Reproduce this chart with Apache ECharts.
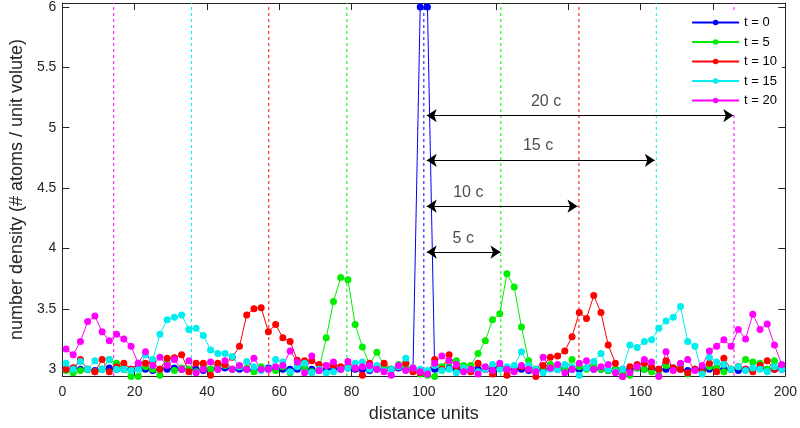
<!DOCTYPE html>
<html><head><meta charset="utf-8">
<script src="https://cdn.jsdelivr.net/npm/echarts@6/dist/echarts.min.js"></script>
<style>html,body{margin:0;padding:0;background:#fff}#c{width:800px;height:428px}</style>
</head><body><div id="c"></div>
<script>
const xs = [1,3,5,7,9,11,13,15,17,19,21,23,25,27,29,31,33,35,37,39,41,43,45,47,49,51,53,55,57,59,61,63,65,67,69,71,73,75,77,79,81,83,85,87,89,91,93,95,97,99,101,103,105,107,109,111,113,115,117,119,121,123,125,127,129,131,133,135,137,139,141,143,145,147,149,151,153,155,157,159,161,163,165,167,169,171,173,175,177,179,181,183,185,187,189,191,193,195,197,199];

const seriesNames = ['t = 0','t = 5','t = 10','t = 15','t = 20'];

const t0 = [3.00,3.01,3.00,3.00,2.99,3.00,3.01,3.00,3.00,3.00,
3.01,3.00,2.99,3.00,3.00,3.01,3.00,3.00,3.00,2.99,
3.00,3.00,3.01,3.00,3.00,3.00,2.99,3.00,3.01,3.00,
3.00,3.00,3.00,3.01,3.00,2.99,3.00,3.00,3.00,3.01,
3.00,3.00,2.99,3.00,3.00,3.00,3.01,3.00,3.00,6.00,
6.00,3.00,3.00,3.01,3.00,3.00,2.99,3.00,3.00,3.00,
3.01,3.00,3.00,3.00,2.99,3.00,3.00,3.01,3.00,3.00,
3.00,3.00,3.01,3.00,3.00,2.99,3.00,3.00,3.00,3.01,
3.00,3.00,3.00,3.00,3.01,3.00,2.99,3.00,3.00,3.00,
3.01,3.00,3.00,2.99,3.00,3.00,3.01,3.00,3.00,3.00];

const t5 = [2.99,2.97,2.99,3.00,2.98,3.00,3.08,3.05,3.00,2.94,
2.94,3.02,3.00,2.95,3.08,2.99,3.01,3.00,2.98,3.02,
3.00,3.04,3.03,3.00,3.02,3.01,2.98,3.02,3.00,2.99,
3.02,2.97,3.04,3.01,2.98,3.00,3.26,3.56,3.76,3.74,
3.37,3.185,3.04,3.14,3.03,3.00,3.04,3.02,2.99,2.96,
2.95,2.94,3.02,3.06,3.07,3.03,3.03,3.13,3.235,3.41,
3.46,3.79,3.68,3.35,3.07,3.00,3.02,3.04,3.03,3.00,
3.08,3.02,3.00,3.03,3.00,2.99,3.00,2.96,2.95,3.01,
3.00,2.98,2.95,3.03,3.00,3.02,2.96,3.00,2.98,3.02,
3.01,2.98,3.00,3.02,3.08,3.06,3.05,3.00,3.07,3.03];

const t10 = [3.00,3.01,3.08,3.00,2.98,3.08,2.98,3.02,3.05,3.00,
3.05,3.05,3.06,3.00,3.09,3.095,3.12,2.98,3.05,3.05,
2.95,3.05,3.04,3.10,3.19,3.45,3.50,3.51,3.31,3.37,
3.26,3.23,3.075,3.07,3.07,3.04,3.03,3.03,3.02,3.02,
3.01,2.95,3.05,3.01,3.05,3.00,3.02,3.05,2.98,2.97,
2.97,3.08,3.00,3.12,3.02,3.00,2.98,3.05,3.00,2.96,
3.02,2.95,3.00,3.02,3.00,2.94,3.03,3.10,3.11,3.15,
3.27,3.47,3.42,3.61,3.47,3.20,3.05,2.94,3.02,3.04,
3.05,3.02,3.00,3.07,3.01,3.00,2.97,3.00,2.98,3.05,
2.98,3.09,3.00,3.02,3.00,2.98,3.03,3.07,3.00,3.03];

const t15 = [3.05,3.00,3.065,3.00,3.07,3.00,3.08,3.00,3.00,2.99,
3.00,3.12,3.08,3.29,3.41,3.43,3.45,3.33,3.34,3.28,
3.16,3.13,3.13,3.105,3.02,3.065,3.02,2.99,3.00,3.08,
3.06,2.98,3.02,3.05,2.97,3.00,2.97,2.98,3.00,3.01,
3.05,3.06,3.00,3.03,2.99,3.00,3.02,3.09,3.01,3.00,
2.99,3.03,2.99,3.00,2.97,3.01,3.00,2.98,3.00,3.04,
3.00,3.02,3.03,3.145,3.03,3.00,2.97,3.00,3.00,3.04,
3.02,2.95,3.01,3.065,3.13,3.00,2.98,3.00,3.20,3.18,
3.23,3.245,3.34,3.40,3.43,3.52,3.23,3.19,2.96,3.10,
3.06,3.04,3.00,3.02,2.99,3.01,3.00,2.98,3.02,3.00];

const t20 = [3.167,3.12,3.23,3.395,3.44,3.31,3.235,3.29,3.25,3.19,
3.05,3.145,3.03,3.10,3.03,3.08,3.00,3.07,2.97,3.00,
3.06,3.00,3.07,3.00,3.03,3.00,3.09,3.00,3.00,3.02,
3.03,3.15,3.06,2.97,3.11,2.99,3.03,3.06,3.00,3.065,
3.01,3.02,3.03,3.00,2.98,2.95,3.03,2.99,3.01,2.98,
2.96,3.05,3.11,3.07,3.04,2.98,3.00,2.96,3.02,2.99,
3.05,3.00,2.98,3.03,3.00,2.98,3.10,3.01,3.04,2.97,
3.00,3.05,3.07,3.00,3.02,3.04,2.97,2.94,2.97,3.02,
3.08,3.06,2.94,3.145,2.99,3.05,3.08,2.99,3.03,3.15,
3.19,3.245,3.19,3.33,3.25,3.455,3.33,3.375,3.20,3.04];

// wave-front positions (dashed vertical lines)
const front0 = [100];
const front5 = [78.7, 121.3];
const front10 = [57.1, 142.9];
const front15 = [35.7, 164.3];
const front20 = [14.2, 185.8];

// distance arrows
const arrowStartX = 100.8;
const arrowEndX = [121.2, 142.5, 163.9, 185.6];
const arrowY = [3.97, 4.35, 4.73, 5.1];

// arrow labels
const labelX = [110.9, 112.3, 131.6, 133.8];
const labelY = [4.08, 4.46, 4.85, 5.22];
const labelText = ['5 c', '10 c', '15 c', '20 c'];

const yTicks = [3,3.5,4,4.5,5,5.5,6];

const colors = ['#0000ff','#00ee00','#ff0000','#00eeee','#ff00ff'];
const FONT = '"Liberation Sans", Arial, sans-serif';
const AX = '#262626';
const yMin = 2.944, yMax = 6.032;

function mkSeries(name, vals, color) {
  return {
    name: name, type: 'line', data: xs.map((x, i) => [x, vals[i]]),
    symbol: 'circle', symbolSize: 7, showSymbol: true, clip: false,
    lineStyle: { color: color, width: 1 }, itemStyle: { color: color },
    emphasis: { disabled: true }, z: 3
  };
}
function mkFronts(fronts, color) {
  return fronts.map(f => ({
    type: 'line', silent: true, symbol: 'none', z: 2,
    data: [[f, yMin], [f, yMax]],
    lineStyle: { color: color, width: 1, type: [3, 3] },
    emphasis: { disabled: true }
  }));
}

const chart = echarts.init(document.getElementById('c'), null, { renderer: 'canvas' });
const axisCommon = {
  axisLine: { show: true, onZero: false, lineStyle: { color: AX, width: 1 } },
  splitLine: { show: false }
};
chart.setOption({
  animation: false,
  backgroundColor: '#fff',
  textStyle: { fontFamily: FONT },
  grid: { left: 53, right: 13, top: 1.5, bottom: 43, containLabel: false },
  legend: {
    data: seriesNames, orient: 'vertical', right: 18, top: 11,
    itemWidth: 47, itemHeight: 7, itemGap: 6.5, padding: 5,
    backgroundColor: '#fff',
    textStyle: { fontSize: 13, color: '#000', fontFamily: FONT }
  },
  xAxis: [
    Object.assign({
      type: 'value', min: 0, max: 200, interval: 20, position: 'bottom',
      axisTick: { show: true, inside: true, length: 7, lineStyle: { color: AX } },
      axisLabel: { color: AX, fontSize: 14, margin: 9, fontFamily: FONT },
      name: 'distance units', nameLocation: 'middle', nameGap: 29,
      nameTextStyle: { fontSize: 18, color: AX, fontFamily: FONT }
    }, axisCommon),
    Object.assign({
      type: 'value', min: 0, max: 200, interval: 20, position: 'top',
      axisTick: { show: true, inside: true, length: 7, lineStyle: { color: AX } },
      axisLabel: { show: false }
    }, axisCommon)
  ],
  yAxis: [
    Object.assign({
      type: 'value', min: yMin, max: yMax, position: 'left',
      axisTick: { show: true, inside: true, length: 7, customValues: yTicks, lineStyle: { color: AX } },
      axisLabel: { color: AX, fontSize: 14, margin: 6, customValues: yTicks, fontFamily: FONT },
      name: 'number density (# atoms / unit volute)', nameLocation: 'middle', nameGap: 36,
      nameTextStyle: { fontSize: 18, color: AX, fontFamily: FONT }
    }, axisCommon),
    Object.assign({
      type: 'value', min: yMin, max: yMax, position: 'right',
      axisTick: { show: true, inside: true, length: 7, customValues: yTicks, lineStyle: { color: AX } },
      axisLabel: { show: false }
    }, axisCommon)
  ],
  series: [].concat(
    mkFronts(front0, colors[0]),
    mkFronts(front5, colors[1]),
    mkFronts(front10, colors[2]),
    mkFronts(front15, colors[3]),
    mkFronts(front20, colors[4]),
    [
      mkSeries(seriesNames[0], t0, colors[0]),
      mkSeries(seriesNames[1], t5, colors[1]),
      mkSeries(seriesNames[2], t10, colors[2]),
      mkSeries(seriesNames[3], t15, colors[3]),
      mkSeries(seriesNames[4], t20, colors[4]),
      {
        type: 'lines', coordinateSystem: 'cartesian2d', silent: true,
        symbol: ['arrow', 'arrow'], symbolSize: 10, z: 5,
        lineStyle: { color: '#000', width: 1, opacity: 1, curveness: 0 },
        data: arrowY.map((y, i) => ({ coords: [[arrowStartX, y], [arrowEndX[i], y]] }))
      },
      {
        type: 'scatter', silent: true, symbolSize: 0, z: 5,
        data: labelX.map((x, i) => [x, labelY[i], labelText[i]]),
        label: { show: true, position: 'inside', formatter: p => p.data[2], color: '#222', fontSize: 16, fontFamily: FONT }
      }
    ]
  )
});
</script></body></html>
